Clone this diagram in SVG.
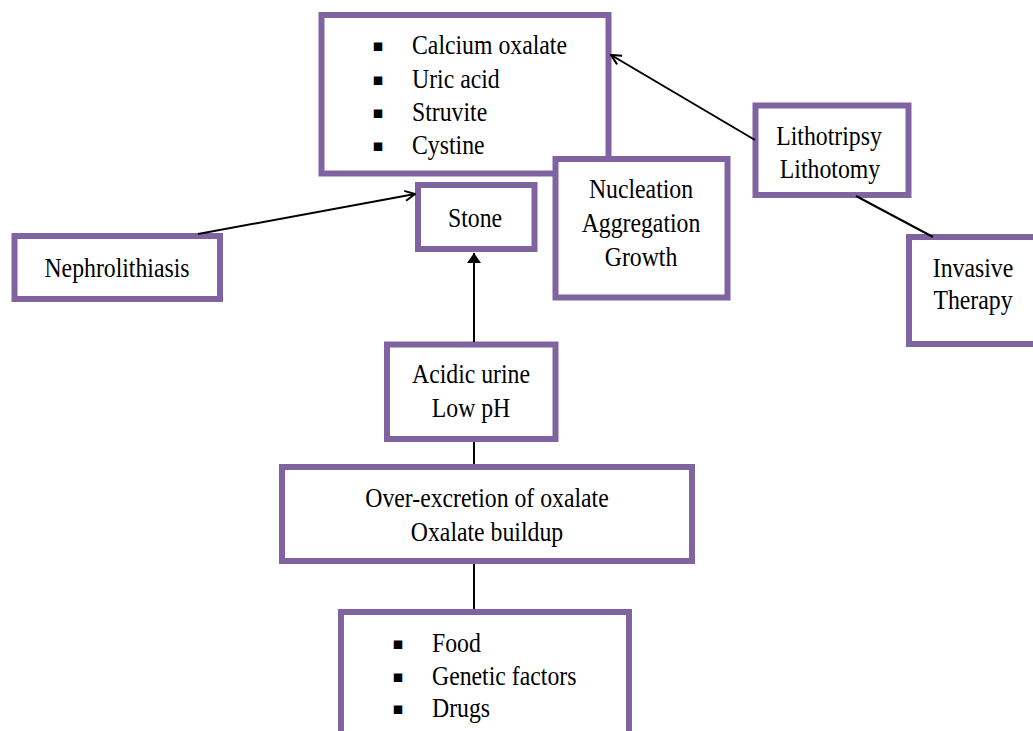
<svg xmlns="http://www.w3.org/2000/svg" width="1033" height="731" viewBox="0 0 1033 731">
<defs>
<style>
.box{fill:#fff;stroke:#8064a2;stroke-width:6}
.c{font-family:'Liberation Serif','Times New Roman',serif;font-size:27px;fill:#000;text-anchor:middle}
.l{font-family:'Liberation Serif','Times New Roman',serif;font-size:27px;fill:#000;text-anchor:start}
.b{font-family:'DejaVu Sans',sans-serif;font-size:17px;fill:#000;text-anchor:middle}
.ln{stroke:#000;stroke-width:2;fill:none}
</style>
<marker id="open" viewBox="0 0 12 12" refX="11" refY="6" markerWidth="12" markerHeight="12" markerUnits="userSpaceOnUse" orient="auto">
<path d="M1,1 L11,6 L1,11" fill="none" stroke="#000" stroke-width="2"/>
</marker>
<marker id="solid" viewBox="0 0 10 14" refX="10" refY="7" markerWidth="10" markerHeight="14" markerUnits="userSpaceOnUse" orient="auto">
<path d="M0,0 L10,7 L0,14 Z" fill="#000"/>
</marker>
</defs>

<g id="types">
<rect class="box" x="321.5" y="15" width="287" height="158.5"/>
<text class="b" x="378" y="51">▪</text>
<text class="b" x="378" y="85">▪</text>
<text class="b" x="378" y="118">▪</text>
<text class="b" x="378" y="151">▪</text>
<text class="l" transform="translate(412,54) scale(0.88,1)">Calcium oxalate</text>
<text class="l" transform="translate(412,88) scale(0.88,1)">Uric acid</text>
<text class="l" transform="translate(412,121) scale(0.88,1)">Struvite</text>
<text class="l" transform="translate(412,154) scale(0.88,1)">Cystine</text>
</g>

<g id="nucleation">
<rect class="box" x="555.5" y="159" width="172" height="138.5"/>
<text class="c" transform="translate(641,198) scale(0.88,1)">Nucleation</text>
<text class="c" transform="translate(641,232) scale(0.88,1)">Aggregation</text>
<text class="c" transform="translate(641,266) scale(0.88,1)">Growth</text>
</g>

<g id="stone">
<rect class="box" x="418" y="185" width="116.5" height="64"/>
<text class="c" transform="translate(475,227) scale(0.88,1)">Stone</text>
</g>

<g id="nephrolithiasis">
<rect class="box" x="14.5" y="236" width="205.5" height="63"/>
<text class="c" transform="translate(117,277) scale(0.88,1)">Nephrolithiasis</text>
</g>

<g id="lithotripsy">
<rect class="box" x="755.5" y="105.5" width="153" height="89.5"/>
<text class="c" transform="translate(829,145) scale(0.88,1)">Lithotripsy</text>
<text class="c" transform="translate(830,178) scale(0.88,1)">Lithotomy</text>
</g>

<g id="invasive">
<rect class="box" x="909" y="237" width="140" height="107"/>
<text class="c" transform="translate(973,277) scale(0.88,1)">Invasive</text>
<text class="c" transform="translate(973,309) scale(0.88,1)">Therapy</text>
</g>

<g id="acidic">
<rect class="box" x="387" y="344.5" width="168.5" height="94.5"/>
<text class="c" transform="translate(471,383) scale(0.88,1)">Acidic urine</text>
<text class="c" transform="translate(471,417) scale(0.88,1)">Low pH</text>
</g>

<g id="overexcretion">
<rect class="box" x="282" y="467" width="410" height="94"/>
<text class="c" transform="translate(487,507) scale(0.88,1)">Over-excretion of oxalate</text>
<text class="c" transform="translate(487,541) scale(0.88,1)">Oxalate buildup</text>
</g>

<g id="causes">
<rect class="box" x="341" y="612" width="288" height="130"/>
<text class="b" x="398" y="649">▪</text>
<text class="b" x="398" y="682">▪</text>
<text class="b" x="398" y="714">▪</text>
<text class="l" transform="translate(432,652) scale(0.88,1)">Food</text>
<text class="l" transform="translate(432,685) scale(0.88,1)">Genetic factors</text>
<text class="l" transform="translate(432,717) scale(0.88,1)">Drugs</text>
</g>

<g id="connectors">
<line class="ln" x1="198" y1="234" x2="415" y2="194" marker-end="url(#open)"/>
<line class="ln" x1="755" y1="140" x2="611" y2="55" marker-end="url(#open)"/>
<line class="ln" x1="856" y1="196" x2="933" y2="237" stroke-width="1.5"/>
<line class="ln" x1="474" y1="342" x2="474" y2="253" marker-end="url(#solid)"/>
<line class="ln" x1="474" y1="442" x2="474" y2="464"/>
<line class="ln" x1="474" y1="564" x2="474" y2="609"/>
</g>
</svg>
